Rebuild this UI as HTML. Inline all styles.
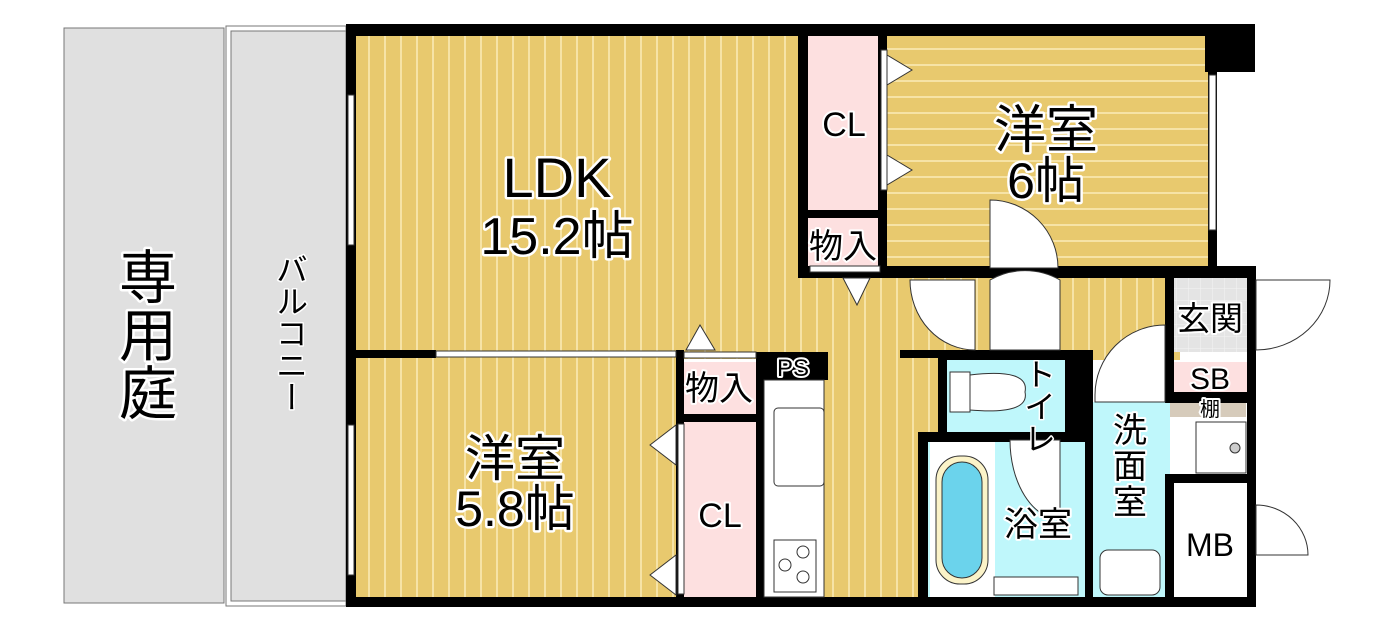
<!DOCTYPE html>
<html><head><meta charset="utf-8"><style>
body{margin:0;background:#fff;width:1393px;height:632px;overflow:hidden}
svg text{font-family:"Liberation Sans","Noto Sans CJK JP",sans-serif;fill:#000;paint-order:stroke;stroke:#fff;stroke-linejoin:round}
.vt{writing-mode:vertical-rl;text-orientation:upright}
</style></head><body>
<svg width="1393" height="632" viewBox="0 0 1393 632" xmlns="http://www.w3.org/2000/svg">
<defs>
<pattern id="v" width="16" height="10" patternUnits="userSpaceOnUse"><rect width="16" height="10" fill="#e8c96e"/><rect x="0" width="2" height="10" fill="#f6e3a6"/></pattern>
<pattern id="h" width="10" height="16" patternUnits="userSpaceOnUse"><rect width="10" height="16" fill="#e8c96e"/><rect y="0" width="10" height="2" fill="#f6e3a6"/></pattern>
<pattern id="t" width="12" height="12" patternUnits="userSpaceOnUse"><rect width="12" height="12" fill="#e4e4e4"/><path d="M0 0H12M0 0V12" stroke="#f4f4f4" stroke-width="1"/></pattern>
</defs>
<rect x="64" y="28" width="160" height="575" fill="#e0e0e0" stroke="#777" stroke-width="1"/>
<rect x="226" y="26" width="120" height="580" fill="#fff" stroke="#777"/>
<rect x="231" y="31" width="115" height="570" fill="#e0e0e0" stroke="#777"/>
<rect x="355" y="34" width="450" height="325" fill="url(#v)"/>
<rect x="780" y="270" width="400" height="90" fill="url(#v)"/>
<rect x="760" y="355" width="180" height="245" fill="url(#v)"/>
<rect x="355" y="358" width="325" height="242" fill="url(#v)"/>
<rect x="885" y="34" width="325" height="240" fill="url(#h)"/>
<rect x="808" y="34" width="72" height="176" fill="#fde0e0"/>
<rect x="808" y="218" width="72" height="48" fill="#fde0e0"/>
<rect x="684" y="362" width="72" height="52" fill="#fde0e0"/>
<rect x="684" y="422" width="72" height="175" fill="#fde0e0"/>
<rect x="945" y="360" width="120" height="72" fill="#bff7fb"/>
<rect x="928" y="440" width="157" height="157" fill="#bff7fb"/>
<rect x="930" y="442" width="65" height="155" fill="#fff"/>
<rect x="1092" y="402" width="78" height="195" fill="#bff7fb"/>
<rect x="1174" y="278" width="73" height="74" fill="url(#t)"/>
<rect x="1174" y="362" width="73" height="30" fill="#fde0e0"/>
<rect x="1170" y="403" width="76" height="14" fill="#d6cbbb"/>
<rect x="1174" y="483" width="72" height="114" fill="#fff"/>
<rect x="1196" y="422" width="50" height="51" fill="#fff" stroke="#333"/>
<circle cx="1235" cy="448" r="5" fill="#ccc" stroke="#333"/>
<g fill="#000">
<rect x="346" y="24" width="870" height="12"/>
<rect x="1205" y="24" width="50" height="48"/>
<rect x="346" y="24" width="10" height="583"/>
<rect x="346" y="597" width="910" height="10"/>
<rect x="1208" y="72" width="9" height="205"/>
<rect x="798" y="30" width="10" height="248"/>
<rect x="878" y="30" width="9" height="248"/>
<rect x="798" y="266" width="458" height="12"/>
<rect x="804" y="210" width="80" height="8"/>
<rect x="1247" y="266" width="9" height="340"/>
<rect x="346" y="350" width="90" height="8"/>
<rect x="676" y="350" width="8" height="250"/>
<rect x="676" y="414" width="84" height="8"/>
<rect x="756" y="352" width="8" height="248"/>
<rect x="758" y="352" width="70" height="28"/>
<rect x="900" y="350" width="40" height="8"/>
<rect x="938" y="350" width="150" height="10"/>
<rect x="938" y="350" width="9" height="90"/>
<rect x="1065" y="350" width="22" height="90"/>
<rect x="918" y="432" width="170" height="10"/>
<rect x="918" y="432" width="10" height="170"/>
<rect x="1085" y="350" width="8" height="252"/>
<rect x="1165" y="274" width="9" height="128"/>
<rect x="1165" y="392" width="90" height="11"/>
<rect x="1165" y="474" width="90" height="9"/>
<rect x="1165" y="474" width="9" height="128"/>
</g>
<g fill="#fff" stroke="#333" stroke-width="1">
<rect x="436" y="351" width="240" height="6"/>
<rect x="348" y="95" width="6" height="150"/>
<rect x="348" y="425" width="6" height="150"/>
<rect x="1209" y="75" width="7" height="155"/>
<rect x="881" y="50" width="6" height="140"/>
<rect x="678" y="424" width="6" height="170"/>
<rect x="810" y="266" width="70" height="6"/>
<rect x="684" y="352" width="72" height="6"/>
<rect x="764" y="380" width="60" height="217"/>
<rect x="774" y="408" width="50" height="78" rx="4"/>
<rect x="774" y="540" width="42" height="52"/>
<circle cx="803" cy="552" r="6"/><circle cx="785" cy="565" r="6"/><circle cx="803" cy="577" r="6"/>
<path d="M887 55 L912 70 L887 85Z M887 155 L912 170 L887 185Z"/>
<path d="M676 425 L650 445 L676 465Z M676 555 L650 575 L676 595Z"/>
<path d="M686 350 L700 325 L715 350Z"/>
<path d="M843 278 L870 278 L857 305Z"/>
<path d="M990 268 V200 A68 68 0 0 1 1058 268Z"/>
<path d="M910 280 H975 V350 A65 70 0 0 1 910 280Z"/>
<path d="M990 350 V280 A70 70 0 0 1 1060 280V350Z"/>
<path d="M1095 402 V395 A70 70 0 0 1 1165 325 V402Z"/>
<path d="M1010 440 H1060 V520 A52 80 0 0 1 1010 440Z"/>
<path d="M1256 280 H1330 A74 70 0 0 1 1256 350Z"/>
<path d="M1256 505 A52 50 0 0 1 1308 555 H1256Z"/>
<rect x="1100" y="550" width="60" height="45" rx="8"/>
<rect x="950" y="372" width="20" height="40"/>
<path d="M970 375 Q1030 368 1025 392 Q1030 415 970 410Z"/>
<rect x="994" y="577" width="84" height="18"/>
</g>
<rect x="936" y="456" width="52" height="128" rx="24" fill="#fbf3c8" stroke="#333"/>
<rect x="942" y="462" width="40" height="116" rx="20" fill="#6bd3ec" stroke="#333"/>
<g stroke-width="5">
<text x="557" y="197" font-size="56" text-anchor="middle">LDK</text>
<text x="557" y="254" font-size="52" text-anchor="middle">15.2帖</text>
<text x="1046" y="148" font-size="52" text-anchor="middle">洋室</text>
<text x="1046" y="198" font-size="50" text-anchor="middle">6帖</text>
<text x="515" y="476" font-size="50" text-anchor="middle">洋室</text>
<text x="515" y="526" font-size="50" text-anchor="middle">5.8帖</text>
<text x="148" y="298" font-size="58" text-anchor="middle">専</text>
<text x="148" y="356" font-size="58" text-anchor="middle">用</text>
<text x="148" y="414" font-size="58" text-anchor="middle">庭</text>
</g>
<g stroke-width="4">
<text x="844" y="136" font-size="34" text-anchor="middle">CL</text>
<text x="720" y="527" font-size="34" text-anchor="middle">CL</text>
<text x="843" y="258" font-size="34" text-anchor="middle">物入</text>
<text x="719" y="400" font-size="34" text-anchor="middle">物入</text>
<text x="793" y="376" font-size="24" text-anchor="middle">PS</text>
<text x="1210" y="330" font-size="33" text-anchor="middle">玄関</text>
<text x="1210" y="389" font-size="30" text-anchor="middle">SB</text>
<text x="1210" y="416" font-size="20" text-anchor="middle">棚</text>
<text x="1210" y="556" font-size="32" text-anchor="middle">MB</text>
<text x="1038" y="536" font-size="34" text-anchor="middle">浴室</text>
<text x="1130" y="442" font-size="34" text-anchor="middle">洗</text>
<text x="1130" y="478" font-size="34" text-anchor="middle">面</text>
<text x="1130" y="514" font-size="34" text-anchor="middle">室</text>
</g>
<g stroke-width="3" font-size="32">
<text class="vt" x="290" y="253">バルコニー</text>
<text class="vt" x="1038" y="358">トイレ</text>
</g>
</svg>
</body></html>
